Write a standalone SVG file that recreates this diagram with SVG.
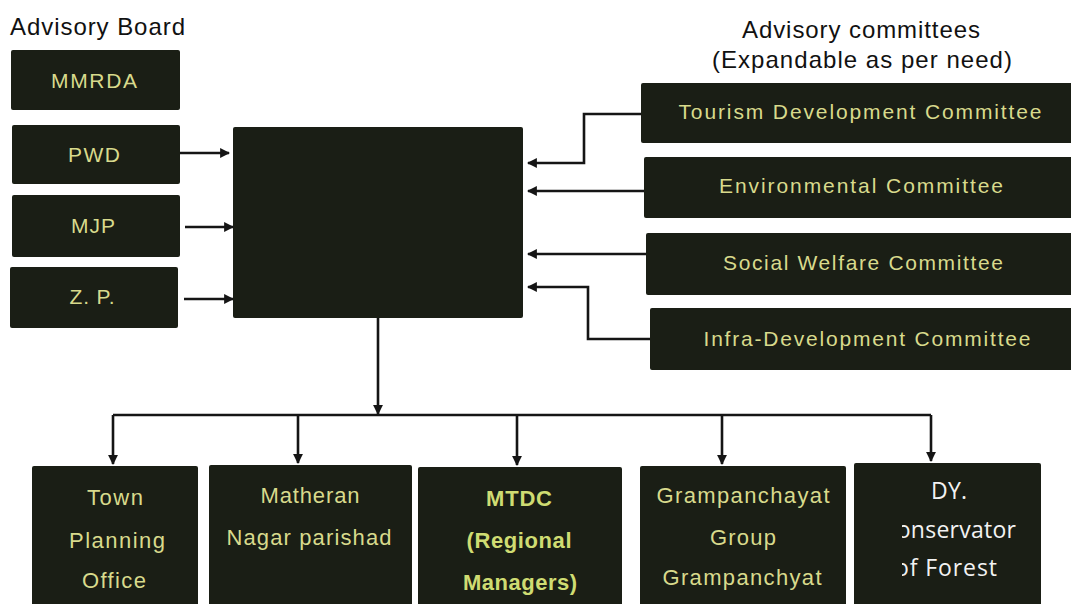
<svg xmlns="http://www.w3.org/2000/svg" width="1071" height="604" viewBox="0 0 1071 604">
<style>
.box{fill:#1a1e15;}
.hdr{font-family:"Liberation Sans",Arial,sans-serif;font-size:24px;fill:#111;}
.t{font-family:"Liberation Sans",Arial,sans-serif;font-size:21px;fill:#d8da8c;text-anchor:middle;}
.b{font-family:"Liberation Sans",Arial,sans-serif;font-size:22px;fill:#d8da8c;text-anchor:middle;}
.bold{font-family:"Liberation Sans",Arial,sans-serif;font-size:22px;font-weight:bold;fill:#cfdc72;text-anchor:middle;}
.w{font-family:"Open Sans","Liberation Sans",sans-serif;font-size:23px;fill:#f2f2f2;}
.c{fill:none;stroke:#151515;stroke-width:2.6;}
</style>
<defs>
<marker id="ah" viewBox="0 0 10 10" refX="9" refY="5" markerWidth="3.8" markerHeight="3.8" orient="auto" markerUnits="strokeWidth">
<path d="M0,0 L10,5 L0,10 z" fill="#151515"/>
</marker>
<clipPath id="clip5"><rect x="902" y="463" width="139" height="141"/></clipPath>
</defs>
<rect width="1071" height="604" fill="#ffffff"/>

<text class="hdr" x="10" y="35" textLength="175" lengthAdjust="spacing">Advisory Board</text>
<text class="hdr" x="742" y="38" font-size="23" textLength="238" lengthAdjust="spacing">Advisory committees</text>
<text class="hdr" x="712" y="68" font-size="23" textLength="300" lengthAdjust="spacing">(Expandable as per need)</text>

<g id="mmrda"><rect class="box" x="11" y="50" width="169" height="60" rx="2"/><text class="t" x="94" y="88" textLength="86" lengthAdjust="spacing">MMRDA</text></g>
<g id="pwd"><rect class="box" x="12" y="125" width="168" height="59" rx="2"/><text class="t" x="94" y="162" textLength="52" lengthAdjust="spacing">PWD</text></g>
<g id="mjp"><rect class="box" x="12" y="195" width="168" height="62" rx="2"/><text class="t" x="93" y="233" textLength="44" lengthAdjust="spacing">MJP</text></g>
<g id="zp"><rect class="box" x="10" y="267" width="168" height="61" rx="2"/><text class="t" x="92" y="304" textLength="45" lengthAdjust="spacing">Z. P.</text></g>

<g id="central"><rect class="box" x="233" y="127" width="290" height="191" rx="2"/></g>

<g id="tourism"><rect class="box" x="641" y="83" width="440" height="60" rx="2"/><text class="t" x="860" y="119" textLength="363" lengthAdjust="spacing">Tourism Development Committee</text></g>
<g id="environmental"><rect class="box" x="644" y="157" width="437" height="61" rx="2"/><text class="t" x="861" y="193" textLength="284" lengthAdjust="spacing">Environmental Committee</text></g>
<g id="social"><rect class="box" x="646" y="233" width="435" height="62" rx="2"/><text class="t" x="863" y="270" textLength="280" lengthAdjust="spacing">Social Welfare Committee</text></g>
<g id="infra"><rect class="box" x="650" y="308" width="431" height="62" rx="2"/><text class="t" x="867" y="346" textLength="327" lengthAdjust="spacing">Infra-Development Committee</text></g>

<g id="town"><rect class="box" x="32" y="466" width="166" height="150" rx="2"/>
<text class="b" x="115" y="505" textLength="56" lengthAdjust="spacing">Town</text>
<text class="b" x="117" y="548" textLength="96" lengthAdjust="spacing">Planning</text>
<text class="b" x="114" y="588" textLength="64" lengthAdjust="spacing">Office</text></g>
<g id="matheran"><rect class="box" x="209" y="465" width="203" height="150" rx="2"/>
<text class="b" x="310" y="503" textLength="99" lengthAdjust="spacing">Matheran</text>
<text class="b" x="309" y="545" textLength="165" lengthAdjust="spacing">Nagar parishad</text></g>
<g id="mtdc"><rect class="box" x="418" y="467" width="204" height="150" rx="2"/>
<text class="bold" x="519" y="506" textLength="66" lengthAdjust="spacing">MTDC</text>
<text class="bold" x="519" y="548" textLength="105" lengthAdjust="spacing">(Regional</text>
<text class="bold" x="520" y="590" textLength="114" lengthAdjust="spacing">Managers)</text></g>
<g id="grampanchayat"><rect class="box" x="640" y="466" width="206" height="150" rx="2"/>
<text class="b" x="743" y="503" textLength="173" lengthAdjust="spacing">Grampanchayat</text>
<text class="b" x="743" y="545" textLength="66" lengthAdjust="spacing">Group</text>
<text class="b" x="742" y="585" textLength="159" lengthAdjust="spacing">Grampanchyat</text></g>
<g id="forest"><rect class="box" x="854" y="463" width="187" height="150" rx="2"/>
<g clip-path="url(#clip5)">
<text class="w" x="931" y="499" textLength="36" lengthAdjust="spacing">DY.</text>
<text class="w" x="882" y="538" textLength="134" lengthAdjust="spacing">Conservator</text>
<text class="w" x="895" y="576" textLength="102" lengthAdjust="spacing">of Forest</text>
</g></g>

<g id="connectors">
<path class="c" d="M180,153 H229" marker-end="url(#ah)"/>
<path class="c" d="M185,227 H233" marker-end="url(#ah)"/>
<path class="c" d="M184,299 H233" marker-end="url(#ah)"/>
<path class="c" d="M641,114 H584 V163 H528" marker-end="url(#ah)"/>
<path class="c" d="M644,191 H528" marker-end="url(#ah)"/>
<path class="c" d="M646,254 H528" marker-end="url(#ah)"/>
<path class="c" d="M650,339 H588 V287 H528" marker-end="url(#ah)"/>
<path class="c" d="M378,318 V414" marker-end="url(#ah)"/>
<path class="c" d="M113,415 H931"/>
<path class="c" d="M113,415 V464" marker-end="url(#ah)"/>
<path class="c" d="M298,415 V463" marker-end="url(#ah)"/>
<path class="c" d="M517,415 V465" marker-end="url(#ah)"/>
<path class="c" d="M722,415 V464" marker-end="url(#ah)"/>
<path class="c" d="M931,415 V461" marker-end="url(#ah)"/>
</g>
</svg>
